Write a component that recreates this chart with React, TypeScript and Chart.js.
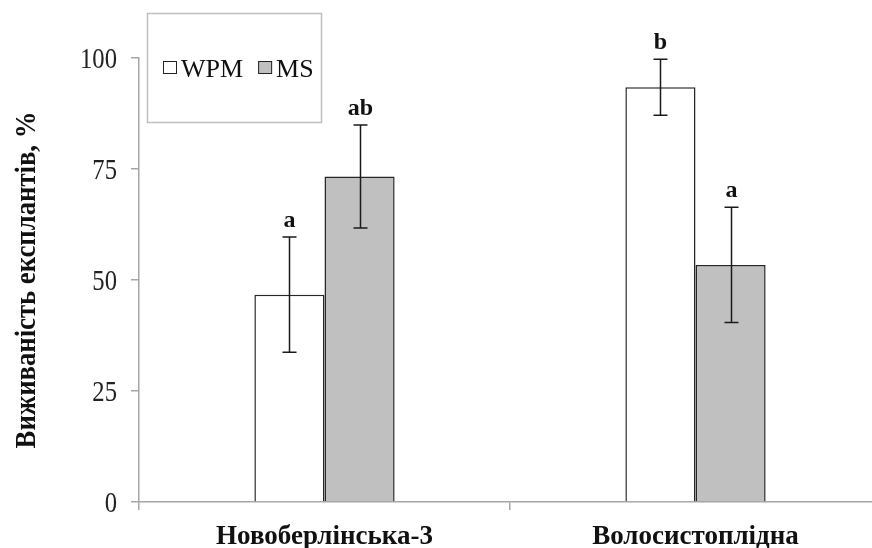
import React, { useEffect, useRef } from "react";
import { Chart, registerables } from "chart.js";

Chart.register(...registerables);

const categories = ["Новоберлінська-3", "Волосистоплідна"];
const seriesNames = ["WPM", "MS"];
const wpmValues = [46.7, 93.4];
const msValues = [73.3, 53.4];
const wpmErrors = [13.0, 6.3];
const msErrors = [11.6, 13.0];
const wpmLetters = ["a", "b"];
const msLetters = ["ab", "a"];
const yTicks = [0, 25, 50, 75, 100];
const yTitle = "Виживаність експлантів, %";

const SERIF = "'Liberation Serif', 'Times New Roman', serif";
const AXIS_GREY = "#a6a6a6";

const errorPlugin = {
  id: "errorBars",
  afterDatasetsDraw(chart: any) {
    const ctx = chart.ctx;
    const y = chart.scales.y;
    const errs = [wpmErrors, msErrors];
    const letters = [wpmLetters, msLetters];
    chart.data.datasets.forEach((ds: any, di: number) => {
      const meta = chart.getDatasetMeta(di);
      meta.data.forEach((bar: any, i: number) => {
        const v = ds.data[i];
        const e = errs[di][i];
        const top = y.getPixelForValue(v + e);
        const bot = y.getPixelForValue(v - e);
        const x = Math.round(bar.x) + 0.5;
        ctx.save();
        ctx.strokeStyle = "#1a1a1a";
        ctx.lineWidth = 1.5;
        ctx.beginPath();
        ctx.moveTo(x, top);
        ctx.lineTo(x, bot);
        ctx.moveTo(x - 7, top);
        ctx.lineTo(x + 7, top);
        ctx.moveTo(x - 7, bot);
        ctx.lineTo(x + 7, bot);
        ctx.stroke();
        ctx.fillStyle = "#111";
        ctx.font = `bold 24px ${SERIF}`;
        ctx.textAlign = "center";
        ctx.textBaseline = "alphabetic";
        ctx.fillText(letters[di][i], x, top - 10);
        ctx.restore();
      });
    });
  },
};

const textPlugin = {
  id: "axisText",
  afterDraw(chart: any) {
    const ctx = chart.ctx;
    const xs = chart.scales.x;
    const ys = chart.scales.y;
    ctx.save();
    // x category labels
    ctx.fillStyle = "#111";
    ctx.font = `bold 27px ${SERIF}`;
    ctx.textAlign = "center";
    ctx.textBaseline = "alphabetic";
    chart.data.labels.forEach((lab: string, i: number) => {
      const px = xs.getPixelForTick(i);
      ctx.fillText(lab, px, 544);
    });
    // y tick labels
    ctx.fillStyle = "#222";
    ctx.font = `29px ${SERIF}`;
    ctx.textAlign = "right";
    ys.ticks.forEach((t: any) => {
      const py = ys.getPixelForValue(t.value);
      ctx.save();
      ctx.translate(117, py + 9.5);
      ctx.scale(0.85, 1);
      ctx.fillText(String(t.value), 0, 0);
      ctx.restore();
    });
    // y title
    ctx.fillStyle = "#111";
    ctx.font = `bold 30px ${SERIF}`;
    ctx.textAlign = "center";
    ctx.save();
    ctx.translate(35, (ys.top + ys.bottom) / 2);
    ctx.rotate(-Math.PI / 2);
    ctx.scale(0.89, 1);
    ctx.fillText(yTitle, 0, 0);
    ctx.restore();
    ctx.restore();
  },
};

const legendPlugin = {
  id: "boxLegend",
  afterDraw(chart: any) {
    const ctx = chart.ctx;
    ctx.save();
    ctx.strokeStyle = "#bfbfbf";
    ctx.lineWidth = 1.5;
    ctx.strokeRect(147.5, 13.5, 174, 109);
    ctx.font = `26px ${SERIF}`;
    ctx.textBaseline = "alphabetic";
    ctx.textAlign = "left";
    let x = 163;
    chart.data.datasets.forEach((ds: any) => {
      ctx.fillStyle = ds.backgroundColor;
      ctx.fillRect(x, 61, 14, 13);
      ctx.strokeStyle = "#222";
      ctx.lineWidth = 1;
      ctx.strokeRect(x + 0.5, 61.5, 13, 12);
      ctx.fillStyle = "#111";
      ctx.fillText(ds.label, x + 18, 77);
      x += 18 + ctx.measureText(ds.label).width + 15;
    });
    ctx.restore();
  },
};

export default function App() {
  const ref = useRef<HTMLCanvasElement>(null);
  useEffect(() => {
    if (!ref.current) return;
    const chart = new Chart(ref.current, {
      type: "bar",
      data: {
        labels: categories,
        datasets: [
          {
            label: seriesNames[0],
            data: wpmValues,
            backgroundColor: "#ffffff",
            borderColor: "#262626",
            borderWidth: 1.5,
            barPercentage: 1,
            categoryPercentage: 0.378,
          },
          {
            label: seriesNames[1],
            data: msValues,
            backgroundColor: "#c0c0c0",
            borderColor: "#262626",
            borderWidth: 1.5,
            barPercentage: 1,
            categoryPercentage: 0.378,
          },
        ],
      },
      options: {
        responsive: false,
        animation: false,
        events: [],
        layout: { padding: { top: 58, right: 9, bottom: 0, left: 0 } },
        plugins: { legend: { display: false }, tooltip: { enabled: false } },
        scales: {
          x: {
            offset: true,
            grid: {
              offset: true,
              drawOnChartArea: false,
              drawTicks: true,
              tickLength: 8,
              color: AXIS_GREY,
              lineWidth: 1.5,
            },
            border: { color: AXIS_GREY, width: 1.5 },
            ticks: {
              color: "rgba(0,0,0,0)",
              font: { family: SERIF, size: 24, weight: "bold" },
              padding: 10,
              maxRotation: 0,
            },
            afterFit(scale: any) {
              scale.height = 46;
            },
          },
          y: {
            min: 0,
            max: 100,
            afterBuildTicks(scale: any) {
              scale.ticks = yTicks.map((v) => ({ value: v }));
            },
            grid: {
              drawOnChartArea: false,
              drawTicks: true,
              tickLength: 8,
              color: AXIS_GREY,
              lineWidth: 1.5,
            },
            border: { color: AXIS_GREY, width: 1.5 },
            ticks: {
              color: "rgba(0,0,0,0)",
              font: { family: SERIF, size: 25 },
              padding: 12,
            },
            title: { display: false, text: yTitle },
            afterFit(scale: any) {
              scale.width = 139;
            },
          },
        },
      },
      plugins: [errorPlugin, textPlugin, legendPlugin],
    });
    return () => chart.destroy();
  }, []);
  return (
    <div style={{ position: "fixed", left: 0, top: 0, width: 890, height: 548, background: "#fff" }}>
      <canvas ref={ref} width={890} height={548} style={{ display: "block" }} />
    </div>
  );
}
